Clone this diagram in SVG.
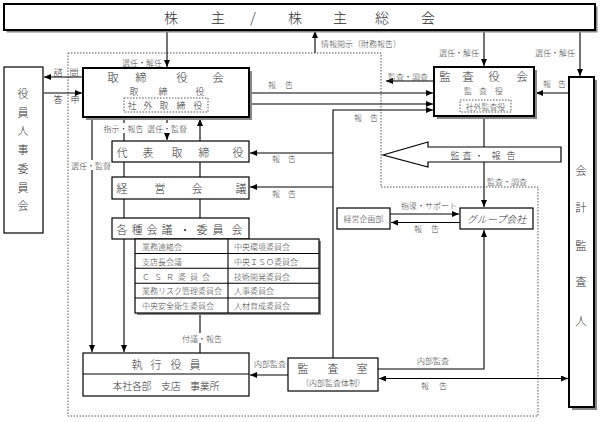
<svg xmlns="http://www.w3.org/2000/svg" width="602" height="422" viewBox="0 0 602 422">
<defs>
<marker id="ah" markerUnits="userSpaceOnUse" markerWidth="7" markerHeight="6" refX="7" refY="3" orient="auto-start-reverse"><path d="M0,0 L7,3 L0,6 z" fill="#000"/></marker>
<style>
text{font-family:"Noto Sans CJK JP","Noto Sans",sans-serif;font-weight:300;fill:#333;dominant-baseline:central}
.t15{font-size:14px}
.t12{font-size:11.5px}
.t11{font-size:11px}
.t10{font-size:10px}
.t9{font-size:9px}
.t8{font-size:8px;fill:#444}
.lb{font-size:8px;fill:#444;text-anchor:middle}
.c{text-anchor:middle}
.box{fill:#fff;stroke:#000;stroke-width:1.2}
.thick{fill:#fff;stroke:#000;stroke-width:2}
.sh{fill:#888;stroke:none}
.dot{fill:none;stroke:#555;stroke-width:1;stroke-dasharray:1.5 1.5}
.ln{fill:none;stroke:#000;stroke-width:1.1}
.arr{fill:none;stroke:#000;stroke-width:1.1;marker-end:url(#ah)}
.bg{fill:#fff}
</style>
</defs>
<rect width="602" height="422" fill="#fff"/>

<!-- outer dotted boundary -->
<path class="dot" d="M68,53 H381 V187 H538 V416 H68 Z" stroke-width="1.5" stroke-dasharray="1.5 2"/>

<g id="connectors">
<line class="arr" x1="167" y1="30" x2="167" y2="67"/>
<line class="arr" x1="484" y1="30" x2="484" y2="66"/>
<line class="arr" x1="580" y1="30" x2="580" y2="76"/>
<line class="arr" x1="315" y1="53" x2="315" y2="31"/>
<line class="arr" x1="83" y1="77" x2="44" y2="77"/>
<line class="arr" x1="44" y1="93" x2="82" y2="93"/>
<line class="arr" x1="251" y1="93" x2="433" y2="93"/>
<line class="arr" x1="208" y1="104" x2="433" y2="104"/>
<polyline class="arr" points="333,358 333,110 433,110"/>
<line class="arr" x1="333" y1="153" x2="250" y2="153"/>
<line class="arr" x1="333" y1="187" x2="250" y2="187"/>
<line class="arr" x1="288" y1="375" x2="250" y2="375"/>
<polyline class="arr" points="378,369 484,369 484,230"/>
<line class="arr" x1="379" y1="378.5" x2="568" y2="378.5" marker-start="url(#ah)"/>
<line class="arr" x1="484" y1="118" x2="484" y2="207"/>
<line class="arr" x1="434" y1="81" x2="386" y2="81"/>
<line class="arr" x1="569" y1="93" x2="536" y2="93"/>
<line class="arr" x1="390" y1="214" x2="459" y2="214"/>
<line class="arr" x1="460" y1="222.5" x2="391" y2="222.5"/>
<line class="arr" x1="92" y1="118" x2="92" y2="352"/>
<line class="arr" x1="124" y1="118" x2="124" y2="352"/>
<line class="arr" x1="167" y1="118" x2="167" y2="140"/>
<line class="arr" x1="200" y1="141" x2="200" y2="119"/>
<line class="ln" x1="200" y1="162" x2="200" y2="177"/>
<line class="ln" x1="200" y1="199" x2="200" y2="218"/>
<line class="ln" x1="200" y1="313" x2="200" y2="353"/>
</g>

<!-- big hollow arrow -->
<g id="audit-report-arrow">
<polygon points="383,155 428,142 428,147 561,147 561,162 428,162 428,167" fill="#fff" stroke="#000" stroke-width="1.2"/>
<text class="t9" x="455 467 479 496 511" y="155" text-anchor="middle">監査・報告</text>
</g>

<!-- connector labels -->
<g id="labels">
<text class="lb" x="142" y="62">選任・解任</text>
<text class="lb" x="459" y="52">選任・解任</text>
<text class="lb" x="555" y="52">選任・解任</text>
<text class="t8" x="321" y="43">情報開示（財務報告）</text>
<text class="t9" x="58 74" y="72" text-anchor="middle">諮問</text>
<text class="t9" x="58 75" y="99" text-anchor="middle">答申</text>
<text class="t8" x="272 289" y="84" text-anchor="middle">報告</text>
<text class="t8" x="358 374" y="117" text-anchor="middle">報告</text>
<text class="t8" x="276 292" y="158" text-anchor="middle">報告</text>
<text class="t8" x="276 292" y="193" text-anchor="middle">報告</text>
<text class="t8" x="547 562" y="83" text-anchor="middle">報告</text>
<text class="lb" x="408" y="76">監査・調査</text>
<text class="lb" x="507" y="181">監査・調査</text>
<text class="lb" x="429" y="205">指導・サポート</text>
<text class="t8" x="418 435" y="228" text-anchor="middle">報告</text>
<text class="lb" x="270" y="363">内部監査</text>
<text class="lb" x="433" y="360">内部監査</text>
<text class="t8" x="425 443" y="385" text-anchor="middle">報告</text>
<rect class="bg" x="71" y="160" width="40" height="10"/>
<text class="lb" x="91" y="165">選任・監督</text>
<rect class="bg" x="102" y="123" width="82" height="10"/>
<text class="lb" x="123.5" y="128">指示・報告</text>
<text class="lb" x="167" y="128">選任・監督</text>
<rect class="bg" x="182" y="333" width="42" height="10"/>
<text class="lb" x="202" y="338">付議・報告</text>
</g>

<g id="shareholders">
<rect class="sh" x="6.5" y="6.5" width="591" height="26"/>
<rect class="thick" x="4" y="4" width="591" height="26"/>
<text class="t15" x="171 218 253 295 340 382 428" y="17" text-anchor="middle">株主/株主総会</text>
</g>

<g id="board">
<rect class="sh" x="86" y="71" width="166" height="49"/>
<rect class="thick" x="83" y="68" width="166" height="49"/>
<text class="t12" x="113 141 182 218" y="76.5" text-anchor="middle">取締役会</text>
<text class="t9" x="134 163 200" y="91" text-anchor="middle" font-size="8.5">取締役</text>
<rect class="dot" x="124" y="98" width="84" height="14" stroke="#333"/>
<text class="t9" x="132 148 164 181 198" y="105" text-anchor="middle" font-size="8.5">社外取締役</text>
</g>

<g id="auditors-board">
<rect class="sh" x="437" y="70" width="100" height="49"/>
<rect class="thick" x="434" y="67" width="100" height="49"/>
<text class="t12" x="445 468 494 522" y="76" text-anchor="middle">監査役会</text>
<text class="t8" x="468 483 499" y="90.5" text-anchor="middle">監査役</text>
<rect class="dot" x="460" y="100" width="51" height="12" stroke="#333"/>
<text class="t8 c" x="485.5" y="106" font-size="7.5">社外監査役</text>
</g>

<g id="accounting-auditor">
<rect class="sh" x="572" y="80" width="25" height="330"/>
<rect class="thick" x="569" y="77" width="25" height="330"/>
<text class="t12" x="581" y="170" text-anchor="middle">会</text>
<text class="t12" x="581" y="207" text-anchor="middle">計</text>
<text class="t12" x="581" y="245" text-anchor="middle">監</text>
<text class="t12" x="581" y="281" text-anchor="middle">査</text>
<text class="t12" x="581" y="320" text-anchor="middle">人</text>
</g>

<g id="nomination-committee">
<rect class="box" x="4" y="67" width="39" height="166" stroke-width="1.6"/>
<text class="t11" x="23" y="93" text-anchor="middle">役</text>
<text class="t11" x="23" y="112" text-anchor="middle">員</text>
<text class="t11" x="23" y="130" text-anchor="middle">人</text>
<text class="t11" x="23" y="149" text-anchor="middle">事</text>
<text class="t11" x="23" y="168" text-anchor="middle">委</text>
<text class="t11" x="23" y="187" text-anchor="middle">員</text>
<text class="t11" x="23" y="205" text-anchor="middle">会</text>
</g>

<g id="representative-director">
<rect class="box" x="112" y="141" width="137" height="21"/>
<text class="t11" x="122 148 177 204 238" y="151.5" text-anchor="middle">代表取締役</text>
</g>

<g id="management-meeting">
<rect class="box" x="112" y="177" width="137" height="22"/>
<text class="t11" x="122 160 197 241" y="188" text-anchor="middle">経営会議</text>
</g>

<g id="committees">
<rect class="box" x="112" y="218" width="137" height="21"/>
<text class="t11" x="122 137 152 167 185 202 218 237" y="228.5" text-anchor="middle">各種会議・委員会</text>
<rect class="sh" x="137" y="241" width="184" height="74"/>
<rect class="box" x="135" y="239" width="184" height="74"/>
<path class="ln" d="M228,239 V313 M135,253.5 H319 M135,268.3 H319 M135,283.2 H319 M135,298 H319"/>
<text class="t8" x="142" y="246.5">業務連絡会</text>
<text class="t8" x="142" y="261">支店長会議</text>
<text class="t8" x="142" y="276" textLength="68" lengthAdjust="spacing">ＣＳＲ委員会</text>
<text class="t8" x="142" y="290.5">業務リスク管理委員会</text>
<text class="t8" x="142" y="305.5">中央安全衛生委員会</text>
<text class="t8" x="234" y="246.5">中央環境委員会</text>
<text class="t8" x="234" y="261">中央ＩＳＯ委員会</text>
<text class="t8" x="234" y="276">技術開発委員会</text>
<text class="t8" x="234" y="290.5">人事委員会</text>
<text class="t8" x="234" y="305.5">人材育成委員会</text>
</g>

<g id="executive-officers">
<rect class="box" x="83" y="353" width="166" height="43"/>
<line class="ln" x1="83" y1="374" x2="249" y2="374"/>
<text class="t11" x="137 156 176 195" y="363.5" text-anchor="middle">執行役員</text>
<text class="t10 c" x="166" y="385.5" textLength="107" lengthAdjust="spacing">本社各部　支店　事業所</text>
</g>

<g id="internal-audit">
<rect class="box" x="288" y="358" width="90" height="33"/>
<text class="t11" x="303 333 362" y="367.5" text-anchor="middle">監査室</text>
<text class="t8 c" x="333" y="382.5">（内部監査体制）</text>
</g>

<g id="group-companies">
<rect class="box" x="460" y="208" width="73" height="21"/>
<text class="t10 c" x="496.5" y="218.5" font-style="italic">グループ会社</text>
</g>

<g id="planning-dept">
<rect class="box" x="337" y="208" width="53" height="21"/>
<text class="t8 c" x="363.5" y="218.5">経営企画部</text>
</g>
</svg>
